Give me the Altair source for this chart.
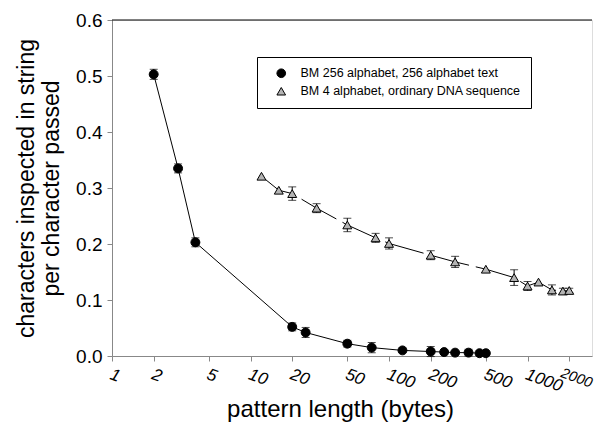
import altair as alt
import pandas as pd

# ---- data ----
series_names = ["BM 256 alphabet, 256 alphabet text", "BM 4 alphabet, ordinary DNA sequence"]

circ_x = [2, 3, 4, 20, 25, 50, 75, 125, 200, 250, 300, 375, 450, 500]
circ_y = [0.503, 0.335, 0.203, 0.052, 0.042, 0.022, 0.015, 0.010, 0.008, 0.007, 0.006, 0.006, 0.005, 0.005]
circ_err = [0.009, 0.008, 0.008, 0.007, 0.009, 0.006, 0.009, 0, 0.009, 0, 0, 0.006, 0, 0]

tri_x = [12, 16, 20, 30, 50, 80, 100, 200, 300, 500, 800, 1000, 1200, 1500, 1800, 2000]
tri_y = [0.321, 0.296, 0.290, 0.264, 0.234, 0.211, 0.201, 0.180, 0.168, 0.155, 0.140, 0.125, 0.132, 0.118, 0.116, 0.117]
tri_err = [0, 0, 0.012, 0.008, 0.012, 0.008, 0.010, 0.008, 0.010, 0, 0.014, 0.008, 0, 0.009, 0.005, 0.004]

x_ticks = [1, 2, 5, 10, 20, 50, 100, 200, 500, 1000, 2000]
y_ticks = [0.0, 0.1, 0.2, 0.3, 0.4, 0.5, 0.6]

rows = []
for name, xs, ys, es in [(series_names[0], circ_x, circ_y, circ_err),
                         (series_names[1], tri_x, tri_y, tri_err)]:
    for i, (x, y, e) in enumerate(zip(xs, ys, es)):
        rows.append({"series": name, "x": x, "y": y, "err": e,
                     "lo": y - e, "hi": y + e, "order": i})
df = pd.DataFrame(rows)
df_err = df[df["err"] > 0]

W, H = 480, 336
FONT = "Liberation Sans"

xscale = alt.Scale(type="log", domain=[1, 2920], nice=False)
yscale = alt.Scale(domain=[0, 0.6], nice=False)

xaxis = alt.Axis(values=x_ticks, format="d", labelAngle=20, labelFontStyle="italic",
                 labelFontSize={"expr": "datum.value >= 2000 ? 14.5 : 17"},
                 labelAlign="left", labelBaseline="top",
                 labelPadding=5, labelOffset={"expr": "datum.value >= 2000 ? -6 : 1"},
                 labelOverlap=False, labelFlush=False,
                 title="pattern length (bytes)", titleFontSize=24,
                 titleFontWeight="normal", titleX=228, titleAlign="center",
                 titleY=41, titleBaseline="top", grid=False)
yaxis = alt.Axis(values=y_ticks, format=".1f", labelFontSize=19, labelPadding=5,
                 title=["characters inspected in string", "per character passed"],
                 titleFontSize=23, titleFontWeight="normal", titlePadding=12, grid=False)

base = alt.Chart(df)

line_circ = base.transform_filter(alt.datum.series == series_names[0]).mark_line(
    color="black", strokeWidth=1).encode(
    x=alt.X("x:Q", scale=xscale, axis=xaxis),
    y=alt.Y("y:Q", scale=yscale, axis=yaxis),
    order="order:Q",
)
line_tri = base.transform_filter(alt.datum.series == series_names[1]).mark_line(
    color="black", strokeWidth=1, strokeDash=[40, 7]).encode(
    x=alt.X("x:Q", scale=xscale),
    y=alt.Y("y:Q", scale=yscale),
    order="order:Q",
)

err_rules = alt.Chart(df_err).mark_rule(color="black", strokeWidth=1).encode(
    x=alt.X("x:Q", scale=xscale),
    y=alt.Y("lo:Q", scale=yscale),
    y2="hi:Q",
)
caps_lo = alt.Chart(df_err).mark_tick(color="black", orient="horizontal",
                                      size=8, thickness=1).encode(
    x=alt.X("x:Q", scale=xscale), y=alt.Y("lo:Q", scale=yscale))
caps_hi = alt.Chart(df_err).mark_tick(color="black", orient="horizontal",
                                      size=8, thickness=1).encode(
    x=alt.X("x:Q", scale=xscale), y=alt.Y("hi:Q", scale=yscale))

legend = alt.Legend(title=None, orient="none", legendX=145, legendY=37,
                    strokeColor="black", padding=10, labelFontSize=12.5,
                    labelFont=FONT, labelLimit=0, symbolSize=75, rowPadding=5,
                    symbolStrokeWidth=1, symbolOffset=8, labelOffset=13,
                    cornerRadius=0, fillColor="white")

points = base.mark_point(filled=True, strokeWidth=1, opacity=1, size=80).encode(
    x=alt.X("x:Q", scale=xscale),
    y=alt.Y("y:Q", scale=yscale),
    shape=alt.Shape("series:N", scale=alt.Scale(domain=series_names,
                    range=["circle", "triangle-up"]), legend=legend),
    fill=alt.Fill("series:N", scale=alt.Scale(domain=series_names,
                  range=["black", "#b4b4b4"]), legend=legend),
    stroke=alt.Stroke("series:N", scale=alt.Scale(domain=series_names,
                      range=["black", "black"]), legend=legend),
)

top_line = alt.Chart(pd.DataFrame({"a": [0]})).mark_rule(color="black", strokeWidth=1).encode(
    x=alt.value(0), x2=alt.value(W), y=alt.value(0))

chart = alt.layer(top_line, line_circ, line_tri, err_rules, caps_lo, caps_hi, points).properties(
    width=W, height=H,
    autosize=alt.AutoSizeParams(type="none"),
    padding={"left": 104, "top": 12, "right": 4, "bottom": 71},
).configure_view(stroke=None).configure_axis(
    domainColor="black", tickColor="black", labelColor="black", titleColor="black",
    labelFont=FONT, titleFont=FONT, tickSize=5, domainWidth=1, tickWidth=1,
).configure(background="white")

chart.save("out.html", embed_options={"renderer": "svg", "actions": False})
